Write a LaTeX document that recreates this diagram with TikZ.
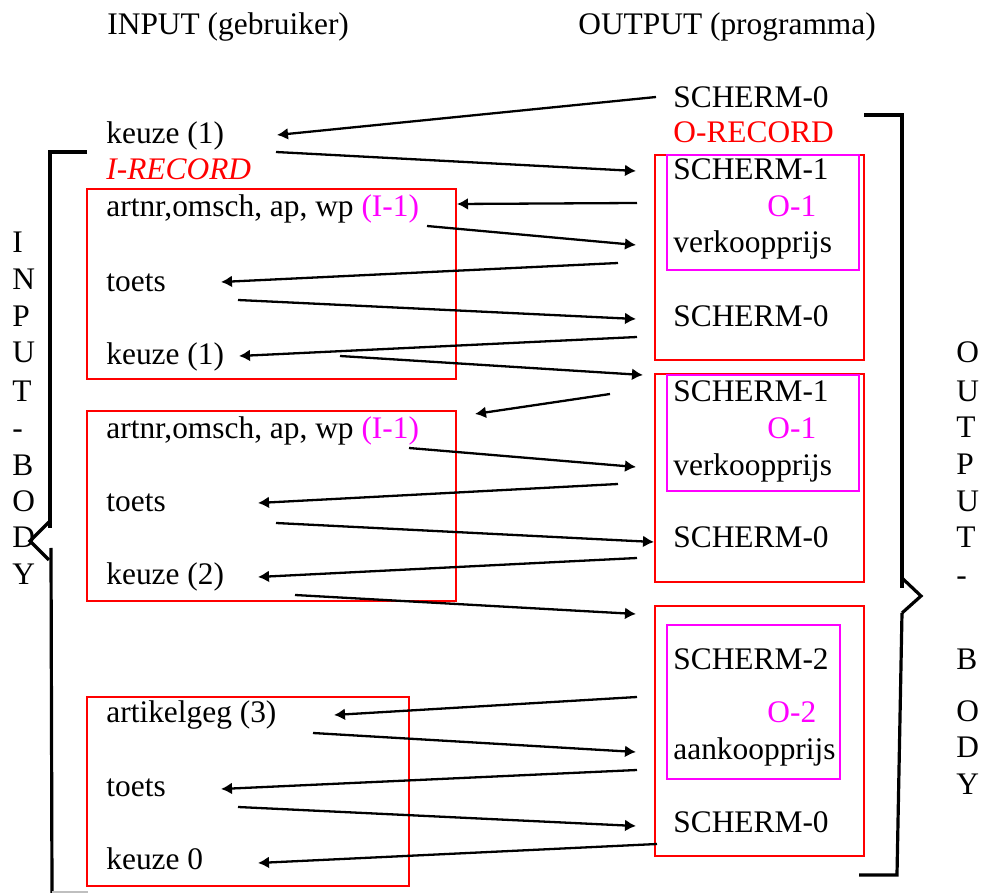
\documentclass[tikz,border=0pt]{standalone}
\usepackage{fontspec}
\setmainfont{Liberation Serif}
\usetikzlibrary{arrows.meta}
\definecolor{mag}{RGB}{255,0,255}
\begin{document}
\begin{tikzpicture}[x=0.5pt,y=-0.5pt,
  font=\fontsize{15.7}{18}\selectfont,
  lbl/.style={anchor=base west, inner sep=0pt},
  flow/.style={-{Latex[length=5.5pt,width=6pt]}, line width=1.15pt},
  redbox/.style={draw=red, line width=0.7pt},
  magbox/.style={draw=mag, line width=1.1pt},
  brace/.style={line width=1.6pt}]
\useasboundingbox (0,0) rectangle (982,893);

% column headings
\node[lbl] (hin)  at (107,35) {INPUT (gebruiker)};
\node[lbl] (hout) at (578,35) {OUTPUT (programma)};

% input side
\node[lbl] (k1)   at (106,144) {keuze (1)};
\node[lbl,text=red] (irec) at (106,180) {\textit{I-RECORD}};
\node[lbl] (art1) at (106,217) {artnr,omsch, ap, wp \textcolor{mag}{(I-1)}};
\node[lbl] (t1)   at (106,292) {toets};
\node[lbl] (k1b)  at (106,365) {keuze (1)};
\node[lbl] (art2) at (106,439) {artnr,omsch, ap, wp \textcolor{mag}{(I-1)}};
\node[lbl] (t2)   at (106,512) {toets};
\node[lbl] (k2)   at (106,585) {keuze (2)};
\node[lbl] (ag)   at (106,723) {artikelgeg (3)};
\node[lbl] (t3)   at (106,797) {toets};
\node[lbl] (k0)   at (106,870) {keuze 0};

% output side
\node[lbl] (s0)   at (673,108) {SCHERM-0};
\node[lbl,text=red] (orec) at (673,143) {O-RECORD};
\node[lbl] (s1a)  at (673,180) {SCHERM-1};
\node[lbl,text=mag] (o1a) at (767,217) {O-1};
\node[lbl] (vpa)  at (673,253) {verkoopprijs};
\node[lbl] (s0a)  at (673,327) {SCHERM-0};
\node[lbl] (s1b)  at (673,402) {SCHERM-1};
\node[lbl,text=mag] (o1b) at (767,439) {O-1};
\node[lbl] (vpb)  at (673,476) {verkoopprijs};
\node[lbl] (s0b)  at (673,548) {SCHERM-0};
\node[lbl] (s2)   at (673,670) {SCHERM-2};
\node[lbl,text=mag] (o2) at (767,723) {O-2};
\node[lbl] (akp)  at (673,760) {aankoopprijs};
\node[lbl] (s0c)  at (673,833) {SCHERM-0};

% record frames
\draw[redbox] (87,189) rectangle (456,379);
\draw[redbox] (87,411) rectangle (456,601);
\draw[redbox] (87,697) rectangle (409,886);
\draw[redbox] (655,155) rectangle (864,360);
\draw[redbox] (655,374) rectangle (864,582);
\draw[redbox] (655,606) rectangle (864,856);
\draw[magbox] (667,155) rectangle (859,270);
\draw[magbox] (667,375) rectangle (859,491);
\draw[magbox] (667,625) rectangle (840,779);

% dialogue arrows
\foreach \i/\ax/\ay/\bx/\by in {
  1/656/97/277/135, 2/276/152/636/171, 3/637/203/457/204,
  4/427/226/636/245, 5/618/263/221/282, 6/238/300/636/319,
  7/637/337/239/356, 8/340/356/643/375, 9/610/394/475/414,
  10/409/448/636/467, 11/618/484/258/503, 12/276/523/654/542,
  13/637/558/258/577, 14/295/595/636/614, 15/637/697/334/715,
  16/313/733/636/752, 17/637/770/221/789, 18/238/807/636/826,
  19/657/844/258/863}{
  \coordinate (f\i s) at (\ax,\ay);
  \coordinate (f\i e) at (\bx,\by);
  \draw[flow] (f\i s) -- (f\i e);
}

% input body brace
\draw[brace] (87,152) -- (50,152) -- (50,528);
\draw[brace] (49,522) -- (30,541) -- (49,560);
\draw[brace] (51,548) -- (52,893);
\draw[line width=0.6pt, black!25] (52,892) -- (88,892);

% output body brace
\draw[brace] (864,115) -- (902,115) -- (902,588);
\draw[brace] (902,578) -- (921,596) -- (902,613);
\draw[brace] (902,613) -- (897,875) -- (859,875);

% vertical captions
\foreach \c/\y [count=\n] in {I/253, N/290, P/327, U/363, T/402, -/439, B/476, O/512, D/548, Y/585}
  \node[lbl] (ib\n) at (12,\y) {\c};
\foreach \c/\y [count=\n] in {O/363, U/402, T/438, P/475, U/512, T/548, -/586, B/670, O/722, D/758, Y/795}
  \node[lbl] (ob\n) at (956,\y) {\c};
\end{tikzpicture}
\end{document}
